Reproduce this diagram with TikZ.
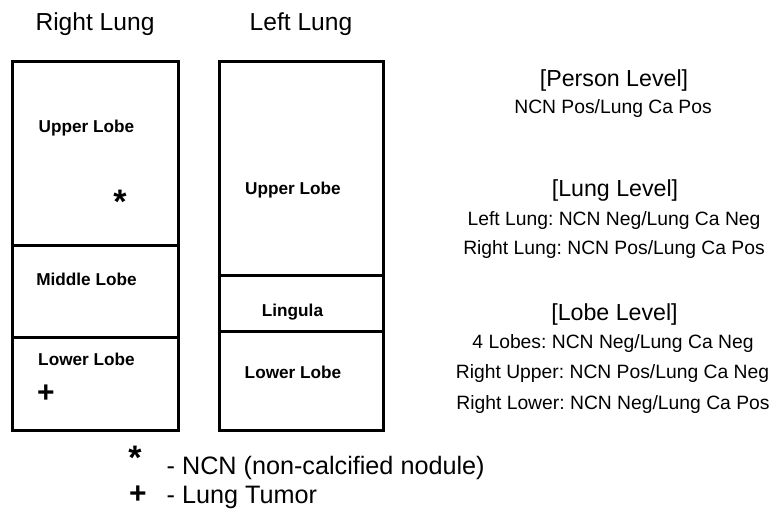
\documentclass[tikz,border=0pt]{standalone}
\usepackage{fontspec}
\setmainfont{Liberation Sans}
\frenchspacing
\begin{document}
\begin{tikzpicture}[x=1pt,y=-1pt,
  head/.style={font=\fontsize{24.6}{28}\selectfont, anchor=base, inner sep=0pt},
  level/.style={font=\fontsize{23.2}{26}\selectfont, anchor=base, inner sep=0pt},
  info/.style={font=\fontsize{19.3}{22}\selectfont, anchor=base, inner sep=0pt},
  lobe/.style={font=\bfseries\fontsize{17.2}{20}\selectfont, anchor=base, inner sep=0pt},
  legend/.style={font=\fontsize{25.2}{28}\selectfont, anchor=base west, inner sep=0pt},
  mark sym/.style={font=\bfseries\fontsize{#1}{#1}\selectfont, anchor=center, inner sep=0pt},
  lungbox/.style={line width=3pt, line join=miter},
  divider/.style={line width=3pt}]
\useasboundingbox (0,0) rectangle (775,512);

% headers
\node[head] (hR) at (95,30.7) {Right Lung};
\node[head] (hL) at (301,30.7) {Left Lung};

% right lung
\draw[lungbox] (12.5,61) rectangle (178,430.5);
\draw[divider] (12.5,245) -- (178,245);
\draw[divider] (12.5,337) -- (178,337);
\node[lobe] (rU) at (86.5,132.3) {Upper Lobe};
\node[mark sym=34] (rStar) at (120,202) {*};
\node[lobe] (rM) at (86.5,285) {Middle Lobe};
\node[lobe] (rL) at (86.5,365.7) {Lower Lobe};
\node[mark sym=30] (rPlus) at (46,394) {+};

% left lung
\draw[lungbox] (219,61) rectangle (383,430.5);
\draw[divider] (219,275) -- (383,275);
\draw[divider] (219,331) -- (383,331);
\node[lobe] (lU) at (293,194) {Upper Lobe};
\node[lobe] (lLi) at (292.5,316) {Lingula};
\node[lobe] (lL) at (293,378) {Lower Lobe};

% right column
\node[level] (pl) at (614,86) {[Person Level]};
\node[info] (pl1) at (613,113.3) {NCN Pos/Lung Ca Pos};
\node[level] (ll) at (615,196.7) {[Lung Level]};
\node[info] (ll1) at (614,225) {Left Lung: NCN Neg/Lung Ca Neg};
\node[info] (ll2) at (614,254) {Right Lung: NCN Pos/Lung Ca Pos};
\node[level] (lb) at (614.5,320) {[Lobe Level]};
\node[info] (lb1) at (613,348.3) {4 Lobes: NCN Neg/Lung Ca Neg};
\node[info] (lb2) at (612.5,378.3) {Right Upper: NCN Pos/Lung Ca Neg};
\node[info] (lb3) at (613,409.3) {Right Lower: NCN Neg/Lung Ca Pos};

% legend
\node[mark sym=34] (gStar) at (135,458) {*};
\node[legend] (g1) at (166.5,474.3) {- NCN (non-calcified nodule)};
\node[mark sym=30] (gPlus) at (138,495) {+};
\node[legend] (g2) at (166.5,503) {- Lung Tumor};
\end{tikzpicture}
\end{document}
